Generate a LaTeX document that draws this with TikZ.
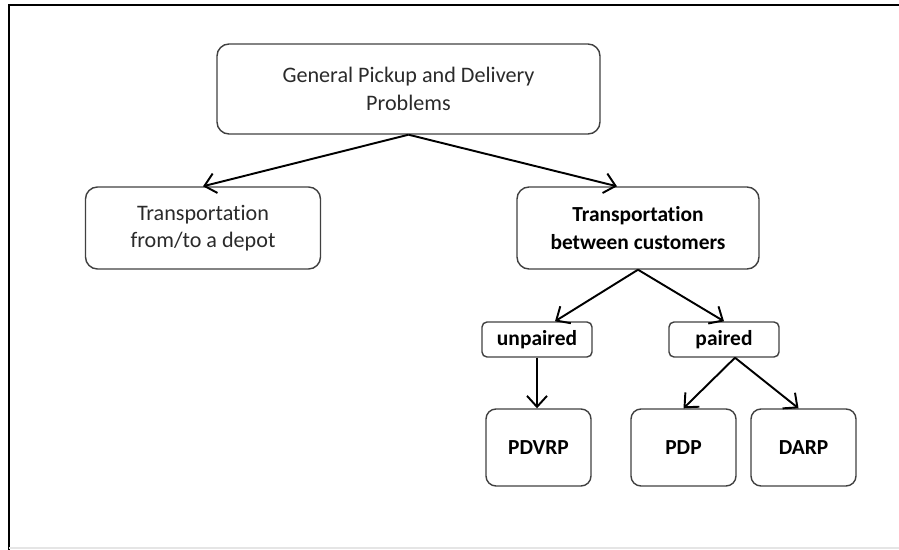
\documentclass[tikz,border=0pt]{standalone}
\usepackage{fontspec}
\setmainfont{Carlito}[Ligatures=NoCommon]
\usetikzlibrary{arrows.meta}
\definecolor{edgegray}{HTML}{404040}
\definecolor{textgray}{HTML}{2A2A2A}

\begin{document}
\begin{tikzpicture}[
        box/.style={draw=edgegray, line width=0.8pt, rounded corners=0.24cm, align=center,
                    text=textgray, font=\fontsize{12.6}{15.5}\selectfont,
                    minimum width=4.7cm, minimum height=1.64cm, inner sep=0pt},
        bbox/.style={box, text=black, font=\fontsize{12.2}{16}\selectfont\bfseries},
        tag/.style={bbox, rounded corners=0.1cm, minimum width=2.2cm, minimum height=0.7cm},
        leaf/.style={bbox, rounded corners=0.2cm, minimum width=2.1cm, minimum height=1.54cm},
        arr/.style={-{Straight Barb[length=2.2mm, width=4mm]}, line width=1.1pt}
    ]
        \useasboundingbox (0,0) rectangle (17.98,-11);
        % frame of the cropped screenshot
        \draw[line width=1.2pt] (0.18,-11) -- (0.18,-0.1) -- (17.98,-0.1);
        \draw[gray!20, line width=0.6pt] (0.18,-10.96) -- (17.98,-10.96);

        \node[box, minimum width=7.66cm, minimum height=1.8cm] (gpdp) at (8.17,-1.78)
            {General Pickup and Delivery\\Problems};
        \node[box]  (depot) at ( 4.06, -4.56) {Transportation\\from/to a depot};
        \node[bbox, minimum width=4.84cm] (cust) at (12.76, -4.56)
            {Transportation\\between customers};
        \node[tag]  (unp)   at (10.74, -6.79) {unpaired};
        \node[tag]  (pair)  at (14.48, -6.79) {paired};
        \node[leaf] (pdvrp) at (10.77, -8.95) {PDVRP};
        \node[leaf] (pdp)   at (13.67, -8.95) {PDP};
        \node[leaf] (darp)  at (16.07, -8.95) {DARP};

        \draw[arr] (gpdp.south) -- (depot.north);
        \draw[arr] (gpdp.south) -- ([xshift=-0.42cm]cust.north);
        \draw[arr] (cust.south) -- ([xshift=0.36cm]unp.north);
        \draw[arr] (cust.south) -- (pair.north);
        \draw[arr] (unp.south)  -- (pdvrp.north -| unp.south);
        \draw[arr] ([xshift=0.22cm]pair.south) -- (pdp.north);
        \draw[arr] ([xshift=0.22cm]pair.south) -- ([xshift=-0.1cm]darp.north);
    \end{tikzpicture}
\end{document}
